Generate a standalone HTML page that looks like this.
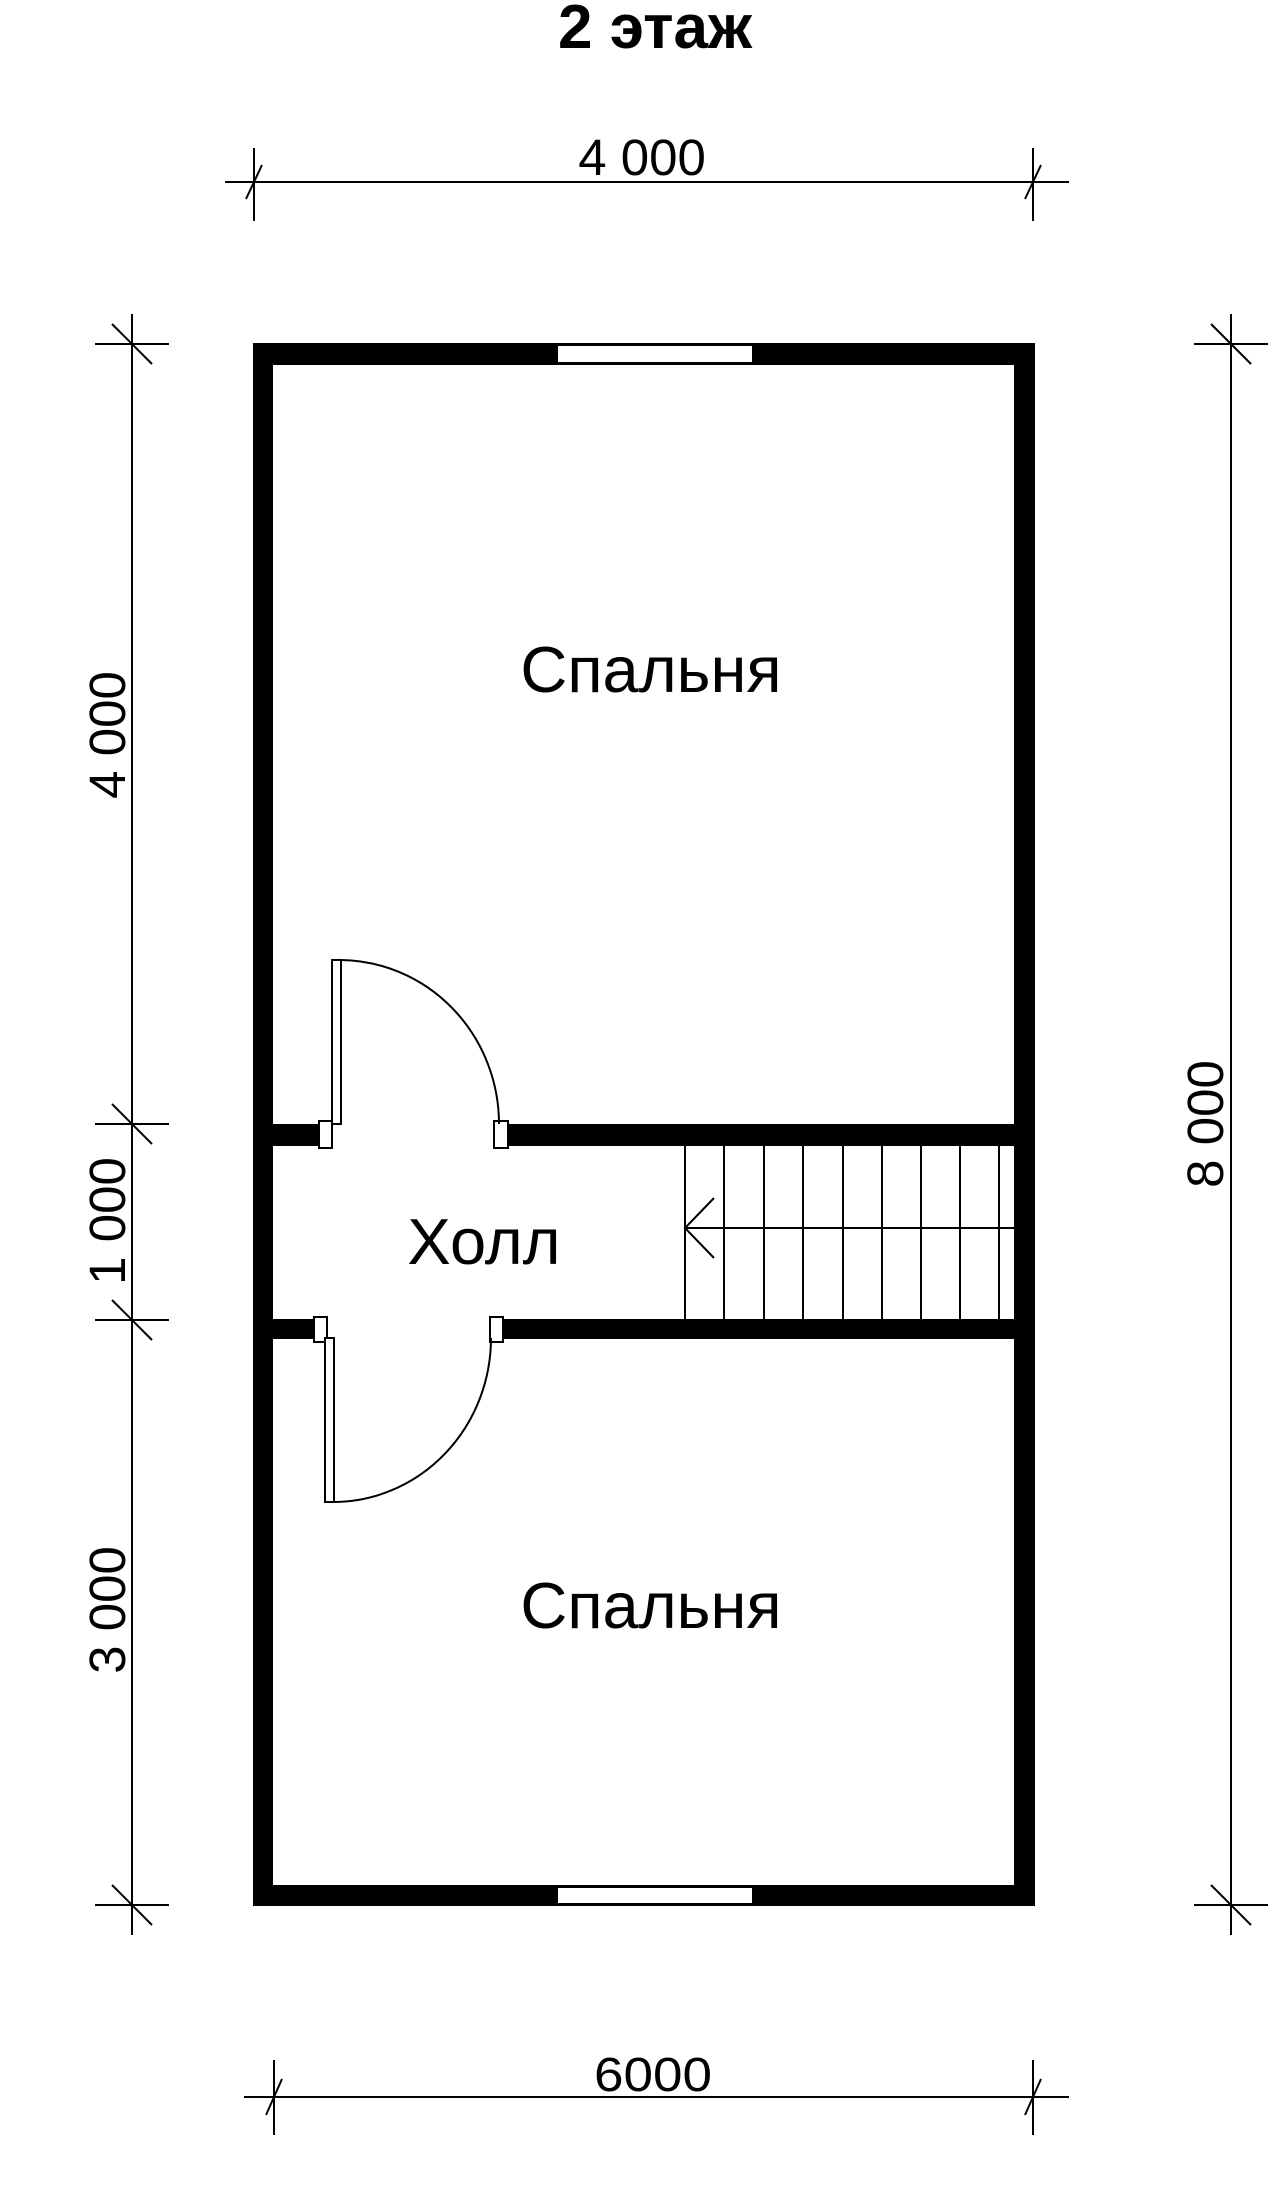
<!DOCTYPE html>
<html><head><meta charset="utf-8"><style>
html,body{margin:0;padding:0;background:#fff;}
svg{display:block;}
text{font-family:"Liberation Sans","DejaVu Sans",sans-serif;fill:#000;}
</style></head><body>
<svg width="1280" height="2212" viewBox="0 0 1280 2212" xmlns="http://www.w3.org/2000/svg">
<text x="655" y="48" font-size="62" font-weight="bold" text-anchor="middle">2 этаж</text>

<g stroke="#000" stroke-width="2" fill="none">
  <line x1="225" y1="182" x2="1069" y2="182"/>
  <line x1="254" y1="148" x2="254" y2="221"/>
  <line x1="1033" y1="148" x2="1033" y2="221"/>
  <line x1="262" y1="165" x2="246" y2="199"/>
  <line x1="1041" y1="165" x2="1025" y2="199"/>
  <line x1="244" y1="2097" x2="1069" y2="2097"/>
  <line x1="274" y1="2060" x2="274" y2="2135"/>
  <line x1="1033" y1="2060" x2="1033" y2="2135"/>
  <line x1="282" y1="2079" x2="266" y2="2115"/>
  <line x1="1041" y1="2079" x2="1025" y2="2115"/>
  <line x1="132" y1="314" x2="132" y2="1935"/>
  <line x1="95" y1="344" x2="169" y2="344"/>
  <line x1="95" y1="1124" x2="169" y2="1124"/>
  <line x1="95" y1="1320" x2="169" y2="1320"/>
  <line x1="95" y1="1905" x2="169" y2="1905"/>
  <line x1="112" y1="324" x2="152" y2="364"/>
  <line x1="112" y1="1104" x2="152" y2="1144"/>
  <line x1="112" y1="1300" x2="152" y2="1340"/>
  <line x1="112" y1="1885" x2="152" y2="1925"/>
  <line x1="1231" y1="314" x2="1231" y2="1935"/>
  <line x1="1194" y1="344" x2="1268" y2="344"/>
  <line x1="1194" y1="1905" x2="1268" y2="1905"/>
  <line x1="1211" y1="324" x2="1251" y2="364"/>
  <line x1="1211" y1="1885" x2="1251" y2="1925"/>
</g>

<text x="642" y="175" font-size="51" text-anchor="middle">4 000</text>
<text x="653" y="2091" font-size="48" text-anchor="middle" textLength="118" lengthAdjust="spacingAndGlyphs">6000</text>
<text transform="translate(125,735) rotate(-90)" font-size="51" text-anchor="middle">4 000</text>
<text transform="translate(125,1221) rotate(-90)" font-size="51" text-anchor="middle">1 000</text>
<text transform="translate(125,1610) rotate(-90)" font-size="51" text-anchor="middle">3 000</text>
<text transform="translate(1223,1124) rotate(-90)" font-size="51" text-anchor="middle">8 000</text>

<g fill="#000">
  <rect x="253" y="343" width="782" height="22"/>
  <rect x="253" y="1885" width="782" height="21"/>
  <rect x="253" y="343" width="20" height="1563"/>
  <rect x="1014" y="343" width="21" height="1563"/>
  <rect x="273" y="1124" width="53" height="22"/>
  <rect x="503" y="1124" width="511" height="22"/>
  <rect x="273" y="1319" width="48" height="20"/>
  <rect x="497" y="1319" width="517" height="20"/>
</g>
<rect x="557" y="345" width="196" height="18" fill="#fff" stroke="#000" stroke-width="2"/>
<rect x="557" y="1887" width="196" height="17" fill="#fff" stroke="#000" stroke-width="2"/>

<g stroke="#000" stroke-width="2" fill="#fff">
  <rect x="319" y="1121" width="13" height="27"/>
  <rect x="494" y="1121" width="14" height="27"/>
  <rect x="332" y="960" width="9" height="164"/>
  <rect x="314" y="1317" width="13" height="25"/>
  <rect x="490" y="1317" width="13" height="25"/>
  <rect x="325" y="1338" width="9" height="164"/>
</g>
<g stroke="#000" stroke-width="2" fill="none">
  <path d="M341 960 A160 164 0 0 1 499 1124"/>
  <path d="M491 1338 A158 164 0 0 1 333 1502"/>
</g>

<g stroke="#000" stroke-width="2" fill="none">
  <line x1="685" y1="1146" x2="685" y2="1319"/>
  <line x1="724" y1="1146" x2="724" y2="1319"/>
  <line x1="764" y1="1146" x2="764" y2="1319"/>
  <line x1="803" y1="1146" x2="803" y2="1319"/>
  <line x1="843" y1="1146" x2="843" y2="1319"/>
  <line x1="882" y1="1146" x2="882" y2="1319"/>
  <line x1="921" y1="1146" x2="921" y2="1319"/>
  <line x1="960" y1="1146" x2="960" y2="1319"/>
  <line x1="999" y1="1146" x2="999" y2="1319"/>
  <line x1="685" y1="1228" x2="1014" y2="1228"/>
  <polyline points="714,1198 685,1228 714,1258"/>
</g>

<text x="651" y="692" font-size="65" text-anchor="middle">Спальня</text>
<text x="484" y="1264" font-size="65" text-anchor="middle">Холл</text>
<text x="651" y="1628" font-size="65" text-anchor="middle">Спальня</text>
</svg>
</body></html>
